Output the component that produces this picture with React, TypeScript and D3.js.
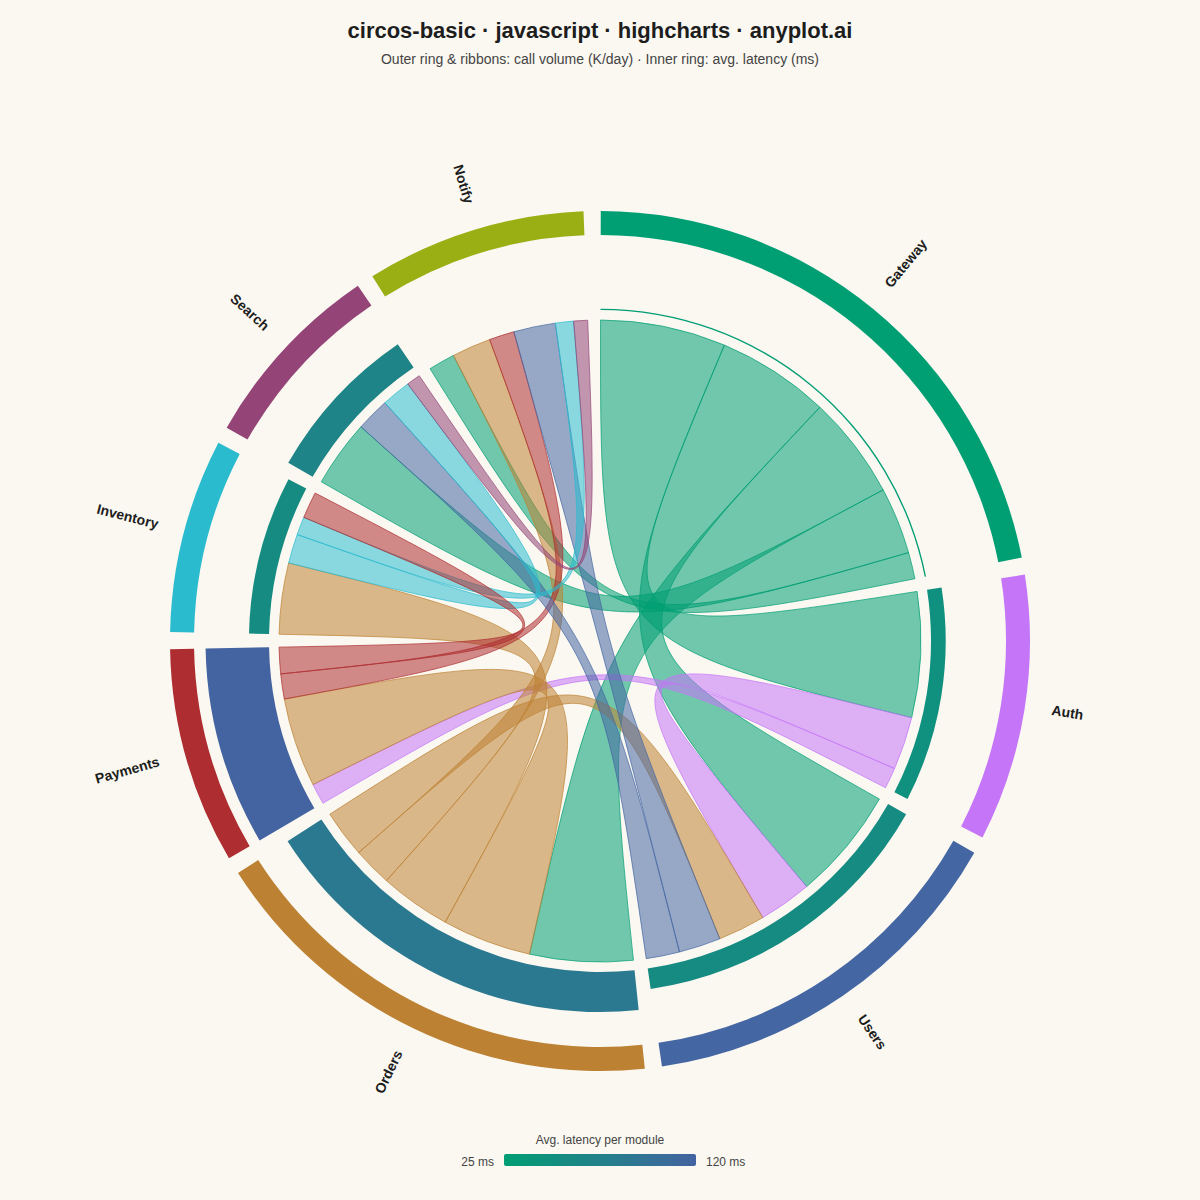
import React from 'react';
import * as d3 from 'd3';

const modules = ['Gateway', 'Auth', 'Users', 'Orders', 'Payments', 'Inventory', 'Search', 'Notify'];
const moduleColors = ['#009E73', '#C475F8', '#4466A3', '#BD8133', '#AE2D31', '#2BBBCF', '#944477', '#9AAF14'];
const latencyMs = [27, 47, 56, 85, 120, 55, 67, 25];

const linkSource = ['Gateway', 'Gateway', 'Gateway', 'Gateway', 'Gateway', 'Auth', 'Auth', 'Orders', 'Orders', 'Orders', 'Orders', 'Payments', 'Users', 'Users', 'Inventory', 'Inventory', 'Payments', 'Search'];
const linkTarget = ['Auth', 'Users', 'Orders', 'Search', 'Notify', 'Users', 'Payments', 'Payments', 'Inventory', 'Notify', 'Users', 'Notify', 'Notify', 'Search', 'Search', 'Notify', 'Inventory', 'Notify'];
const linkVolume = [450, 405, 370, 240, 95, 190, 75, 320, 255, 140, 170, 90, 150, 120, 105, 65, 95, 50];

const latencyDomain = [25, 120];
const latencyColors = ['#009E73', '#4463A1'];
const legendTicks = ['25 ms', '120 ms'];

const TITLE = 'circos-basic · javascript · highcharts · anyplot.ai';
const SUBTITLE = 'Outer ring & ribbons: call volume (K/day) · Inner ring: avg. latency (ms)';
const LEGEND_TITLE = 'Avg. latency per module';

const W = 1200;
const H = 1200;
const CX = 600;
const CY = 641;
const GAP_DEG = 2.3;
const START_DEG = 0.1;
const R_RIBBON = 321;
const R_LAT_IN = 331;
const R_LAT_MAX = 394.5;
const R_OUT_IN = 406;
const R_OUT_OUT = 430;
const R_LABEL = 457;
const CURVE = 1;
const FONT = '"Liberation Sans", Arial, Helvetica, sans-serif';
const BG = '#FAF8F1';

const rad = (d: number) => (d * Math.PI) / 180;

function layout() {
  const n = modules.length;
  const idx = (name: string) => modules.indexOf(name);
  const sums = modules.map((_, i) =>
    linkVolume.reduce((acc, v, j) => acc + (idx(linkSource[j]) === i || idx(linkTarget[j]) === i ? v : 0), 0)
  );
  const total = d3.sum(sums);
  const angle = d3.scaleLinear().domain([0, total]).range([0, 360 - n * GAP_DEG]);
  const starts: number[] = [];
  const ends: number[] = [];
  let cur = START_DEG;
  sums.forEach((s) => {
    starts.push(cur);
    cur += angle(s);
    ends.push(cur);
    cur += GAP_DEG;
  });
  const offs = modules.map(() => 0);
  const links = linkVolume.map((v, j) => {
    const s = idx(linkSource[j]);
    const t = idx(linkTarget[j]);
    const a0 = starts[s] + angle(offs[s]);
    offs[s] += v;
    const a1 = starts[s] + angle(offs[s]);
    const b0 = starts[t] + angle(offs[t]);
    offs[t] += v;
    const b1 = starts[t] + angle(offs[t]);
    return { s, t, v, base: [a0, a1, b0, b1].map(rad) };
  });
  return { starts, ends, links };
}

function ribbonPath(base: number[]) {
  const c = base.map((a) => {
    const x = Math.sin(a) * R_RIBBON;
    const y = -Math.cos(a) * R_RIBBON;
    return { a, x, y, cpX: (1 - CURVE) * x, cpY: (1 - CURVE) * y };
  });
  const p = d3.path();
  p.moveTo(c[0].x, c[0].y);
  p.arc(0, 0, R_RIBBON, c[0].a - Math.PI / 2, c[1].a - Math.PI / 2, false);
  p.bezierCurveTo(c[1].cpX, c[1].cpY, c[2].cpX, c[2].cpY, c[2].x, c[2].y);
  p.arc(0, 0, R_RIBBON, c[2].a - Math.PI / 2, c[3].a - Math.PI / 2, false);
  p.bezierCurveTo(c[3].cpX, c[3].cpY, c[0].cpX, c[0].cpY, c[0].x, c[0].y);
  p.closePath();
  return p.toString();
}

export default function App() {
  const { starts, ends, links } = layout();
  const arc = d3.arc<any>();
  const latR = d3.scaleLinear().domain(latencyDomain).range([R_LAT_IN, R_LAT_MAX]);
  const latColor = d3.scaleLinear<string>().domain(latencyDomain).range(latencyColors).interpolate(d3.interpolateRgb);
  const legendX = d3.scaleLinear().domain(latencyDomain).range([504, 696]);

  return (
    <svg width={W} height={H} style={{ position: 'absolute', left: 0, top: 0, background: BG }} fontFamily={FONT}>
      <defs>
        <linearGradient id="latgrad" x1="0" x2="1" y1="0" y2="0">
          <stop offset="0%" stopColor={latencyColors[0]} />
          <stop offset="100%" stopColor={latencyColors[1]} />
        </linearGradient>
      </defs>
      <rect width={W} height={H} fill={BG} />
      <text x={600} y={38} textAnchor="middle" fontSize={22} fontWeight="bold" fill="#1d1d1d">{TITLE}</text>
      <text x={600} y={64} textAnchor="middle" fontSize={14} fill="#444">{SUBTITLE}</text>

      <g transform={`translate(${CX},${CY})`}>
        {modules.map((m, i) => (
          <path
            key={'o' + m}
            d={arc({ innerRadius: R_OUT_IN, outerRadius: R_OUT_OUT, startAngle: rad(starts[i]), endAngle: rad(ends[i]) }) || ''}
            fill={moduleColors[i]}
          />
        ))}
        {modules.map((m, i) => (
          <path
            key={'l' + m}
            d={arc({ innerRadius: R_LAT_IN, outerRadius: latR(latencyMs[i]), startAngle: rad(starts[i]), endAngle: rad(ends[i]) }) || ''}
            fill={latColor(latencyMs[i])}
          />
        ))}
        {links.map((l, j) => (
          <path
            key={'r' + j}
            d={ribbonPath(l.base)}
            fill={moduleColors[l.s]}
            fillOpacity={0.55}
            stroke={moduleColors[l.s]}
            strokeOpacity={0.7}
            strokeWidth={1}
          />
        ))}
        {modules.map((m, i) => {
          const mid = (starts[i] + ends[i]) / 2;
          const x = Math.sin(rad(mid)) * R_LABEL;
          const y = -Math.cos(rad(mid)) * R_LABEL;
          const right = mid < 180;
          const rot = right ? mid - 90 : mid - 270;
          return (
            <text
              key={'t' + m}
              x={x}
              y={y}
              dy={-4}
              transform={`rotate(${rot},${x},${y})`}
              textAnchor={right ? 'start' : 'end'}
              dominantBaseline="central"
              fontSize={14}
              fontWeight="bold"
              fill="#1d1d1d"
            >
              {m}
            </text>
          );
        })}
      </g>

      <text x={600} y={1144} textAnchor="middle" fontSize={12} fill="#444">{LEGEND_TITLE}</text>
      <rect x={legendX(latencyDomain[0])} y={1154} width={legendX(latencyDomain[1]) - legendX(latencyDomain[0])} height={12} rx={2} fill="url(#latgrad)" />
      <text x={legendX(latencyDomain[0]) - 10} y={1166} textAnchor="end" fontSize={12} fill="#444">{legendTicks[0]}</text>
      <text x={legendX(latencyDomain[1]) + 10} y={1166} textAnchor="start" fontSize={12} fill="#444">{legendTicks[1]}</text>
    </svg>
  );
}
